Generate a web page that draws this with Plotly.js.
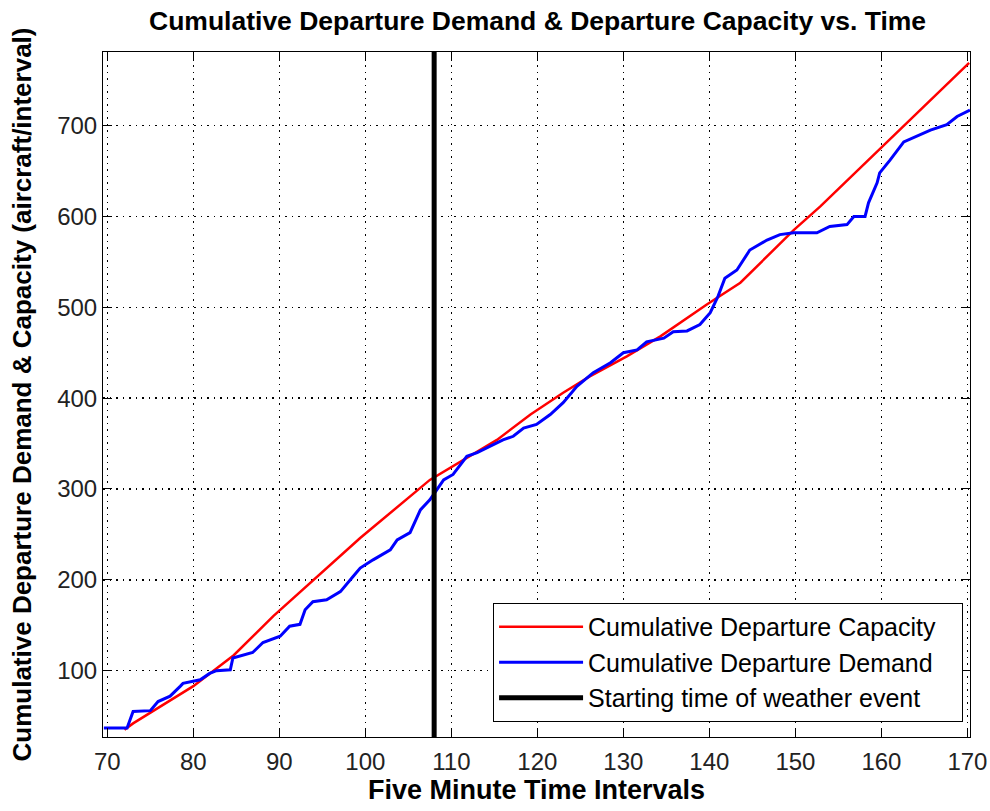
<!DOCTYPE html>
<html>
<head>
<meta charset="utf-8">
<script src="https://cdn.plot.ly/plotly-3.0.1.min.js"></script>
<style>html,body{margin:0;padding:0;background:#fff;}#chart{width:990px;height:811px;}</style>
</head>
<body>
<div id="chart"></div>
<script>
// Cumulative departure capacity (red)
const capX = [72, 73, 80, 84.7, 89.3, 94, 99.4, 107.5, 111.4, 115.3, 119.2, 123, 126.1, 130.4, 134.3, 139.7, 143.6, 146.7, 149.8, 152.9, 159.8, 170.2];
const capY = [35, 42, 83, 117, 160, 200, 246, 310, 332, 354, 382, 406, 424, 446, 468, 503, 527, 556, 585, 611, 674, 769];

// Cumulative departure demand (blue)
const demX = [69.6, 72.3, 73, 75, 75.9, 77.3, 78.5, 78.8, 80.8, 81.9, 82.7, 84.3, 84.6, 86.9, 88.1, 90.1, 91.2, 92.4, 93, 93.9, 95.5, 97.1, 98.6, 99.4, 100.9, 102.9, 103.7, 105.2, 106.4, 107.5, 108.3, 109.1, 110.2, 111.8, 113, 114.5, 116, 117.2, 118.4, 119.9, 121.5, 123, 124.6, 126.5, 128.5, 130, 131.6, 132.7, 134.7, 135.8, 137.4, 138.9, 140.1, 141, 141.8, 143.2, 144.7, 146.7, 148.2, 149.8, 152.5, 154, 156, 156.8, 158.1, 158.5, 159.5, 159.8, 161, 162.6, 164.1, 165.7, 167.6, 168.8, 170.3];
const demY = [37, 37, 55, 56, 66, 72, 83, 86, 90, 97, 100, 101, 114, 120, 131, 138, 149, 151, 167, 176, 178, 187, 204, 213, 222, 233, 244, 252, 277, 288, 299, 310, 316, 336, 340, 347, 354, 358, 367, 371, 382, 395, 413, 428, 439, 450, 453, 462, 466, 473, 474, 481, 494, 512, 532, 541, 563, 574, 580, 582, 582, 589, 591, 600, 600, 615, 637, 648, 662, 682, 688, 695, 701, 710, 717];

// Weather event start
const eventX = [108, 108];
const eventY = [27, 781];

const xRange = [69.5, 170.3];
const yRange = [27, 781];
const xTicks = [70, 80, 90, 100, 110, 120, 130, 140, 150, 160, 170];
const yTicks = [100, 200, 300, 400, 500, 600, 700];

const names = ['Cumulative Departure Capacity', 'Cumulative Departure Demand', 'Starting time of weather event'];

const FONT = 'Liberation Sans, Arial, sans-serif';
const pad = '\u00a0\u00a0\u00a0';

const traces = [
  {x: capX, y: capY, mode: 'lines', name: names[0] + pad, line: {color: '#ff0000', width: 2.5}},
  {x: demX, y: demY, mode: 'lines', name: names[1] + pad, line: {color: '#0000ff', width: 3}},
  {x: eventX, y: eventY, mode: 'lines', name: names[2] + pad, line: {color: '#000000', width: 5}}
];

const axisCommon = {
  showline: true, linecolor: '#000', linewidth: 1, mirror: 'allticks',
  ticks: 'inside', ticklen: 9, tickcolor: '#000', tickwidth: 1,
  showgrid: true, gridcolor: '#000', gridwidth: 1.5, griddash: '1.5px,5px',
  zeroline: false,
  tickfont: {family: FONT, size: 24, color: '#222'}
};

const layout = {
  width: 990, height: 811,
  paper_bgcolor: '#fff', plot_bgcolor: '#fff',
  margin: {l: 103, r: 20, t: 52, b: 74},
  title: {
    text: '<b>Cumulative Departure Demand & Departure Capacity vs. Time</b>',
    font: {family: FONT, size: 26.5, color: '#000'},
    x: 0.543, xanchor: 'center', y: 0.974, yanchor: 'middle'
  },
  xaxis: Object.assign({}, axisCommon, {
    range: xRange, tickvals: xTicks, ticktext: xTicks.map(String),
    ticklabelstandoff: 3,
    title: {text: '<b>Five Minute Time Intervals</b>', font: {family: FONT, size: 27, color: '#000'}, standoff: 2}
  }),
  yaxis: Object.assign({}, axisCommon, {
    range: yRange, tickvals: yTicks, ticktext: yTicks.map(String),
    title: {text: '<b>Cumulative Departure Demand & Capacity (aircraft/interval)</b>', font: {family: FONT, size: 26, color: '#000'}, standoff: 18}
  }),
  showlegend: true,
  legend: {
    x: 0.992, xanchor: 'right', y: 0.022, yanchor: 'bottom',
    bgcolor: '#fff', bordercolor: '#000', borderwidth: 1,
    font: {family: FONT, size: 25, color: '#000'},
    itemwidth: 84
  }
};

Plotly.newPlot('chart', traces, layout, {displayModeBar: false, staticPlot: true});
</script>
</body>
</html>
